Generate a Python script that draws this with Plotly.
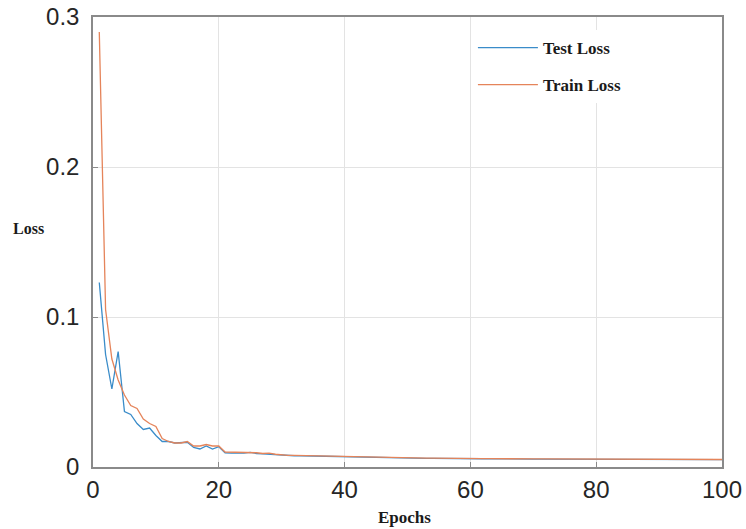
import plotly.graph_objects as go

epochs = list(range(1, 101))

test_loss = [
    0.123, 0.075, 0.052, 0.077, 0.037, 0.035, 0.029, 0.025, 0.026, 0.021,
    0.017, 0.017, 0.016, 0.016, 0.0165, 0.013, 0.012, 0.014, 0.012, 0.0135,
    0.0095, 0.0093, 0.0090, 0.0092, 0.0098, 0.0090, 0.0088, 0.0085, 0.0082, 0.0078,
    0.0076, 0.0075, 0.0075, 0.0074, 0.0073, 0.0072, 0.0071, 0.0071, 0.0070, 0.0071,
    0.0065, 0.0064, 0.0063, 0.0063, 0.0062, 0.0062, 0.0061, 0.0061, 0.0060, 0.0060,
    0.0059, 0.0059, 0.0058, 0.0058, 0.0057, 0.0057, 0.0057, 0.0056, 0.0056, 0.0056,
    0.0055, 0.0055, 0.0055, 0.0054, 0.0054, 0.0054, 0.0054, 0.0053, 0.0053, 0.0053,
    0.0053, 0.0053, 0.0052, 0.0052, 0.0052, 0.0052, 0.0052, 0.0052, 0.0051, 0.0051,
    0.0051, 0.0051, 0.0051, 0.0051, 0.0051, 0.0050, 0.0050, 0.0050, 0.0050, 0.0050,
    0.0050, 0.0050, 0.0050, 0.0049, 0.0049, 0.0049, 0.0049, 0.0049, 0.0049, 0.0049,
]

train_loss = [
    0.290, 0.105, 0.072, 0.058, 0.048, 0.041, 0.039, 0.032, 0.029, 0.027,
    0.019, 0.017, 0.016, 0.016, 0.017, 0.014, 0.014, 0.015, 0.014, 0.014,
    0.0100, 0.0100, 0.0095, 0.0095, 0.0100, 0.0095, 0.0090, 0.0092, 0.0085, 0.0080,
    0.0078, 0.0077, 0.0076, 0.0075, 0.0075, 0.0074, 0.0073, 0.0072, 0.0071, 0.0072,
    0.0066, 0.0065, 0.0064, 0.0064, 0.0063, 0.0063, 0.0062, 0.0062, 0.0061, 0.0061,
    0.0060, 0.0060, 0.0059, 0.0059, 0.0058, 0.0058, 0.0058, 0.0057, 0.0057, 0.0057,
    0.0056, 0.0056, 0.0056, 0.0055, 0.0055, 0.0055, 0.0055, 0.0054, 0.0054, 0.0054,
    0.0054, 0.0054, 0.0053, 0.0053, 0.0053, 0.0053, 0.0053, 0.0053, 0.0052, 0.0052,
    0.0052, 0.0052, 0.0052, 0.0052, 0.0052, 0.0051, 0.0051, 0.0051, 0.0051, 0.0051,
    0.0051, 0.0051, 0.0051, 0.0050, 0.0050, 0.0050, 0.0050, 0.0050, 0.0050, 0.0050,
]

x_ticks = [0, 20, 40, 60, 80, 100]
y_ticks = [0, 0.1, 0.2, 0.3]

BLUE = "#3a8cc9"
ORANGE = "#e5845a"
SERIF = "Liberation Serif, Times New Roman, serif"
SANS = "Liberation Sans, Arial, Helvetica, sans-serif"

fig = go.Figure()
fig.add_trace(go.Scatter(x=epochs, y=test_loss, mode="lines", name="Test Loss",
                         legendgroup="test",
                         line=dict(color=BLUE, width=1.3)))
fig.add_trace(go.Scatter(x=epochs, y=train_loss, mode="lines", name="Train Loss",
                         legendgroup="train",
                         line=dict(color=ORANGE, width=1.3)))

axis_common = dict(
    showline=True, linecolor="#8a8a8a", linewidth=1.5, mirror=True,
    showgrid=True, gridcolor="#e3e3e3", gridwidth=1,
    ticks="inside", ticklen=5, tickcolor="#8a8a8a", tickwidth=1,
    tickfont=dict(family=SANS, size=24, color="#262626"),
    zeroline=False, automargin=False, ticklabeloverflow="allow",
)

fig.update_layout(
    width=746, height=529,
    margin=dict(l=93, r=24, t=17, b=62, autoexpand=False),
    paper_bgcolor="white", plot_bgcolor="white",
    xaxis=dict(range=[0, 100], tickvals=x_ticks, **axis_common),
    yaxis=dict(range=[0, 0.3], tickvals=y_ticks, ticklabelstandoff=7, **axis_common),
    legend=dict(
        x=0.604, y=0.971, xanchor="left", yanchor="top",
        bgcolor="white", borderwidth=0,
        font=dict(family=SERIF, size=17, color="#1a1a1a", weight="bold"),
        tracegroupgap=12, itemwidth=60,
    ),
    showlegend=True,
    annotations=[
        dict(text="<b>Loss</b>", xref="paper", yref="paper", x=-0.102, y=0.531,
             showarrow=False, xanchor="center", yanchor="middle",
             font=dict(family=SERIF, size=16, color="#1a1a1a")),
        dict(text="<b>Epochs</b>", xref="paper", yref="paper", x=0.496, y=-0.113,
             showarrow=False, xanchor="center", yanchor="middle",
             font=dict(family=SERIF, size=17, color="#1a1a1a")),
    ],
)

fig.write_html("out.html", config={"displayModeBar": False},
               post_script="document.body.style.margin='0';")
